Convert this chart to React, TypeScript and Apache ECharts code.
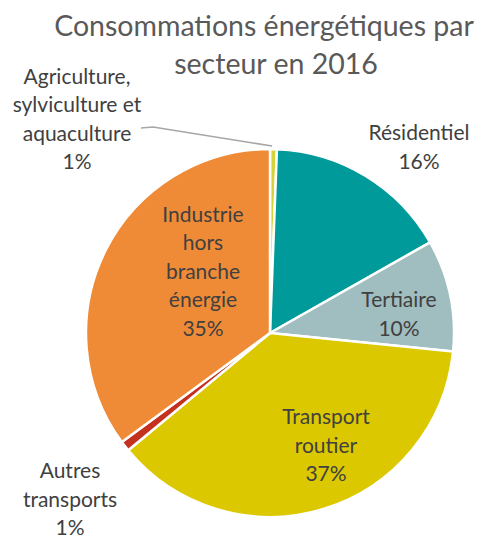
import React, { useEffect, useRef } from "react";
import * as echarts from "echarts";

const titleLines = ["Consommations énergétiques par", "secteur en 2016"];
const categories = [
  "Agriculture,\nsylviculture et\naquaculture",
  "Résidentiel",
  "Tertiaire",
  "Transport\nroutier",
  "Autres\ntransports",
  "Industrie\nhors\nbranche\nénergie",
];
const values = [0.6, 16.2, 9.8, 37.4, 0.9, 35.1];
const colors = ["#D6D33A", "#009A9A", "#A0BDBF", "#DCC800", "#C4311F", "#EF8B37"];

// label anchor positions (pixels), by item index
const labelPos: [number, number][] = [
  [77, 118],
  [419, 146],
  [399, 313],
  [326, 444],
  [70, 498],
  [203, 270],
];

export default function App() {
  const ref = useRef<HTMLDivElement>(null);
  useEffect(() => {
    document.body.style.margin = "0";
    const chart = echarts.init(ref.current!, undefined, { renderer: "svg" });
    const font = "Lato";
    chart.setOption({
      animation: false,
      backgroundColor: "#ffffff",
      title: [
        {
          text: titleLines[0],
          left: 259,
          top: 5,
          textAlign: "center",
          textStyle: { fontFamily: font, fontSize: 28.5, fontWeight: "normal", color: "#595959" },
        },
        {
          text: titleLines[1],
          left: 271,
          top: 43,
          textAlign: "center",
          textStyle: { fontFamily: font, fontSize: 28.5, fontWeight: "normal", color: "#595959" },
        },
      ],
      series: [
        {
          type: "pie",
          center: [270, 333],
          radius: 184,
          startAngle: 90,
          clockwise: true,
          percentPrecision: 0,
          avoidLabelOverlap: false,
          itemStyle: { borderColor: "#ffffff", borderWidth: 2.5 },
          label: {
            show: true,
            position: "outside",
            formatter: "{b}\n{d}%",
            color: "#404040",
            fontFamily: font,
            fontSize: 21,
            lineHeight: 28.5,
            align: "center",
          },
          labelLine: { show: false },
          labelLayout: (p: any) => {
            const i = p.dataIndex;
            const r: any = {
              x: labelPos[i][0],
              y: labelPos[i][1],
              align: "center",
              verticalAlign: "middle",
            };
            if (i === 0) {
              r.labelLinePoints = [
                [272, 146],
                [153, 127],
                [141, 128],
              ];
            }
            return r;
          },
          data: categories.map((c, i) => ({
            name: c,
            value: values[i],
            itemStyle: { color: colors[i] },
            labelLine:
              i === 0
                ? { show: true, lineStyle: { color: "#A6A6A6", width: 1.5 }, smooth: false }
                : { show: false },
          })),
        },
      ],
    });
    return () => chart.dispose();
  }, []);
  return <div ref={ref} style={{ width: 493, height: 539 }} />;
}
